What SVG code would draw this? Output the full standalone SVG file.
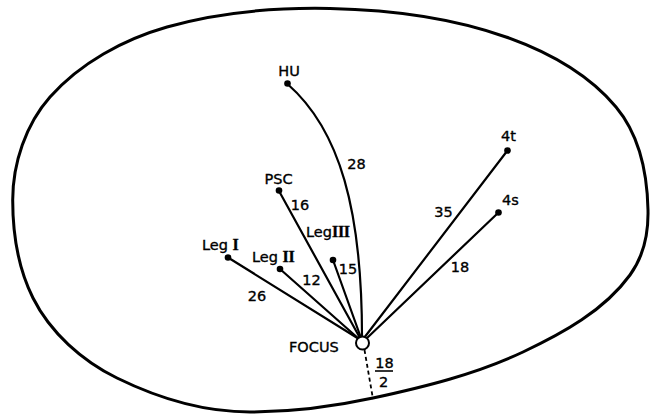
<svg xmlns="http://www.w3.org/2000/svg" width="653" height="415" viewBox="0 0 653 415">
  <style>
    .outline { fill: none; stroke: #000; stroke-width: 3; stroke-linejoin: round; }
    .link { fill: none; stroke: #000; stroke-width: 2.2; stroke-linecap: round; }
    .dash { fill: none; stroke: #000; stroke-width: 1.8; stroke-dasharray: 4 3; }
    .dot { fill: #000; }
    .focus { fill: #fff; stroke: #000; stroke-width: 2; }
    text { font-family: "DejaVu Sans", "Liberation Sans", sans-serif; font-size: 14.5px; fill: #000; stroke: #000; stroke-width: 0.35; }
    .mid { text-anchor: middle; }
    .rn { font-family: "Liberation Serif", "Times New Roman", serif; font-weight: bold; font-size: 16px; letter-spacing: -0.3px; }
  </style>

  <rect width="653" height="415" fill="#fff"/>

  <!-- body outline -->
  <path class="outline" d="M330,8.5 C389,9.7 450.4,17.3 506,37 C547,51.5 588.1,73.7 616,107 C639.1,134.6 647.3,174 648,210 C648.5,232.5 643.2,256.8 630,275 C604.1,310.6 562.8,333.3 523,352 C475.7,374.3 424.1,386.9 373,398 C332.6,406.8 291.3,412 250,412 C204.2,412 158.2,398.2 117,378 C82.2,360.9 50.3,332.6 33,298 C18.1,268.2 12.7,233.3 12.7,200 C12.7,163.5 25.8,124.3 50,97 C80.1,63 123.3,39.5 167,27 C219.6,12 275.3,7.4 330,8.5 Z"/>

  <!-- connectors to the focus -->
  <g id="connectors">
    <path class="link" d="M287.5,84 C340,130 362,210 362,337"/>
    <line class="link" x1="279" y1="191" x2="360" y2="338"/>
    <line class="link" x1="228" y1="257.5" x2="359" y2="339"/>
    <line class="link" x1="280" y1="269" x2="359" y2="339"/>
    <line class="link" x1="333" y1="260" x2="361" y2="338"/>
    <line class="link" x1="507.5" y1="150.5" x2="364" y2="338"/>
    <line class="link" x1="498.5" y1="212.5" x2="366" y2="339"/>
    <line class="dash" x1="364.5" y1="350" x2="373" y2="399"/>
    <text class="mid" x="460" y="272">18</text>
    <text class="mid" x="443.5" y="217">35</text>
    <text class="mid" x="356.5" y="169">28</text>
    <text class="mid" x="300" y="210">16</text>
    <text class="mid" x="348" y="274">15</text>
    <text class="mid" x="311.5" y="285">12</text>
    <text class="mid" x="257" y="301">26</text>
    <text class="mid" x="384.5" y="368">18</text>
    <line x1="375" y1="371" x2="393" y2="371" stroke="#000" stroke-width="1.6"/>
    <text class="mid" x="383.5" y="387">2</text>
  </g>

  <g id="node-hu">
    <circle class="dot" cx="287.5" cy="83.5" r="3.3"/>
    <text class="mid" x="289" y="76">HU</text>
  </g>
  <g id="node-psc">
    <circle class="dot" cx="279" cy="190.5" r="3.3"/>
    <text class="mid" x="278.5" y="183.5">PSC</text>
  </g>
  <g id="node-leg1">
    <circle class="dot" cx="228" cy="257.5" r="3.3"/>
    <text x="202" y="250">Leg <tspan class="rn">I</tspan></text>
  </g>
  <g id="node-leg2">
    <circle class="dot" cx="280" cy="269" r="3.3"/>
    <text x="252" y="262">Leg <tspan class="rn">II</tspan></text>
  </g>
  <g id="node-leg3">
    <circle class="dot" cx="333" cy="260" r="3.3"/>
    <text x="306" y="237">Leg<tspan class="rn">III</tspan></text>
  </g>
  <g id="node-4t">
    <circle class="dot" cx="507.5" cy="150.5" r="3.3"/>
    <text class="mid" x="508.5" y="141">4t</text>
  </g>
  <g id="node-4s">
    <circle class="dot" cx="498.5" cy="212.5" r="3.3"/>
    <text class="mid" x="510.5" y="205">4s</text>
  </g>
  <g id="node-focus">
    <circle class="focus" cx="362.5" cy="343" r="6.5"/>
    <text x="289" y="352">FOCUS</text>
  </g>
</svg>
